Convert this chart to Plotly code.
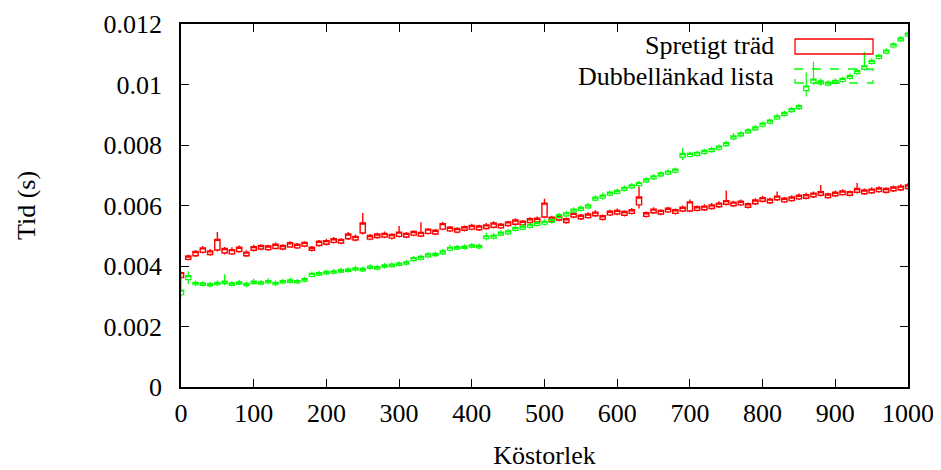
import plotly.graph_objects as go

# x positions (Köstorlek)
x_vals = list(range(0, 1001, 10))

# Red series "Spretigt träd" (values in milliseconds): box bottom, box top, low, high
red_lo = [3.62, 4.22, 4.34, 4.45, 4.38, 4.53, 4.43, 4.40, 4.48, 4.34,
          4.52, 4.56, 4.54, 4.58, 4.56, 4.63, 4.60, 4.66, 4.52, 4.68,
          4.72, 4.78, 4.76, 4.90, 4.86, 5.09, 4.89, 4.94, 4.96, 4.92,
          4.98, 4.96, 5.02, 4.99, 5.08, 5.06, 5.22, 5.16, 5.12, 5.18,
          5.22, 5.20, 5.24, 5.28, 5.26, 5.34, 5.38, 5.36, 5.44, 5.46,
          5.62, 5.49, 5.52, 5.44, 5.62, 5.56, 5.60, 5.66, 5.54, 5.69,
          5.72, 5.68, 5.74, 6.02, 5.64, 5.76, 5.72, 5.79, 5.74, 5.82,
          5.82, 5.84, 5.86, 5.90, 5.96, 6.04, 5.99, 6.02, 5.94, 6.06,
          6.14, 6.09, 6.19, 6.12, 6.16, 6.22, 6.24, 6.29, 6.34, 6.26,
          6.32, 6.36, 6.34, 6.44, 6.39, 6.42, 6.46, 6.44, 6.49, 6.52,
          6.56]
red_hi = [3.78, 4.33, 4.48, 4.60, 4.50, 4.88, 4.58, 4.54, 4.62, 4.46,
          4.64, 4.68, 4.66, 4.72, 4.68, 4.77, 4.72, 4.78, 4.62, 4.82,
          4.84, 4.90, 4.88, 5.06, 4.98, 5.42, 5.01, 5.06, 5.08, 5.04,
          5.12, 5.08, 5.14, 5.11, 5.22, 5.18, 5.40, 5.28, 5.24, 5.30,
          5.34, 5.32, 5.36, 5.42, 5.38, 5.46, 5.52, 5.48, 5.56, 5.58,
          6.08, 5.61, 5.64, 5.56, 5.74, 5.68, 5.72, 5.78, 5.66, 5.81,
          5.84, 5.80, 5.86, 6.28, 5.76, 5.88, 5.84, 5.91, 5.86, 5.94,
          6.12, 5.96, 5.98, 6.02, 6.08, 6.16, 6.11, 6.14, 6.06, 6.18,
          6.26, 6.21, 6.31, 6.24, 6.28, 6.34, 6.36, 6.41, 6.46, 6.38,
          6.44, 6.48, 6.46, 6.56, 6.51, 6.54, 6.58, 6.56, 6.61, 6.64,
          6.68]
red_min = [3.58, 4.18, 4.30, 4.41, 4.34, 4.48, 4.38, 4.36, 4.44, 4.30,
           4.48, 4.52, 4.50, 4.55, 4.52, 4.60, 4.56, 4.62, 4.48, 4.64,
           4.68, 4.74, 4.72, 4.86, 4.82, 5.04, 4.85, 4.90, 4.92, 4.88,
           4.94, 4.92, 4.98, 4.95, 5.04, 5.02, 5.18, 5.12, 5.08, 5.14,
           5.18, 5.16, 5.20, 5.24, 5.22, 5.30, 5.34, 5.32, 5.40, 5.42,
           5.58, 5.45, 5.48, 5.40, 5.58, 5.52, 5.56, 5.62, 5.50, 5.65,
           5.68, 5.64, 5.70, 5.90, 5.60, 5.72, 5.68, 5.75, 5.70, 5.78,
           5.78, 5.80, 5.82, 5.86, 5.92, 6.00, 5.95, 5.98, 5.90, 6.02,
           6.10, 6.05, 6.15, 6.08, 6.12, 6.18, 6.20, 6.25, 6.30, 6.22,
           6.28, 6.32, 6.30, 6.40, 6.35, 6.38, 6.42, 6.40, 6.45, 6.48,
           6.52]
red_max = [3.82, 4.37, 4.52, 4.66, 4.56, 5.12, 4.63, 4.62, 4.68, 4.52,
           4.70, 4.72, 4.70, 4.78, 4.72, 4.82, 4.76, 4.82, 4.66, 4.86,
           4.90, 4.96, 4.92, 5.12, 5.04, 5.75, 5.06, 5.10, 5.14, 5.08,
           5.32, 5.12, 5.18, 5.45, 5.26, 5.22, 5.46, 5.32, 5.28, 5.34,
           5.40, 5.36, 5.42, 5.48, 5.42, 5.50, 5.58, 5.52, 5.62, 5.64,
           6.22, 5.66, 5.70, 5.60, 5.80, 5.72, 5.78, 5.84, 5.70, 5.86,
           5.90, 5.84, 5.92, 6.62, 5.80, 5.94, 5.88, 5.96, 5.90, 6.00,
           6.20, 6.00, 6.04, 6.08, 6.14, 6.50, 6.16, 6.20, 6.10, 6.24,
           6.32, 6.26, 6.46, 6.28, 6.34, 6.40, 6.42, 6.46, 6.68, 6.42,
           6.50, 6.54, 6.50, 6.74, 6.56, 6.60, 6.64, 6.60, 6.66, 6.70,
           6.74]

# Green series "Dubbellänkad lista" (values in milliseconds)
green_lo = [3.05, 3.55, 3.38, 3.36, 3.34, 3.38, 3.42, 3.36, 3.40, 3.35,
            3.42, 3.40, 3.44, 3.38, 3.44, 3.46, 3.44, 3.50, 3.66, 3.70,
            3.74, 3.76, 3.80, 3.82, 3.86, 3.84, 3.92, 3.90, 3.96, 3.98,
            4.02, 4.06, 4.18, 4.22, 4.30, 4.34, 4.40, 4.52, 4.56, 4.58,
            4.62, 4.60, 4.90, 4.92, 5.02, 5.06, 5.18, 5.22, 5.28, 5.34,
            5.38, 5.44, 5.60, 5.66, 5.78, 5.84, 5.92, 6.18, 6.24, 6.34,
            6.40, 6.50, 6.58, 6.66, 6.78, 6.88, 6.98, 7.04, 7.10, 7.60,
            7.62, 7.66, 7.72, 7.78, 7.86, 7.98, 8.20, 8.30, 8.40, 8.50,
            8.62, 8.72, 8.86, 8.98, 9.10, 9.20, 9.80, 10.05, 10.02, 9.98,
            10.04, 10.10, 10.20, 10.36, 10.50, 10.70, 10.86, 11.04, 11.24, 11.44,
            11.60]
green_hi = [3.20, 3.68, 3.46, 3.44, 3.42, 3.46, 3.50, 3.44, 3.48, 3.43,
            3.50, 3.48, 3.52, 3.46, 3.52, 3.54, 3.52, 3.58, 3.76, 3.78,
            3.82, 3.84, 3.88, 3.90, 3.94, 3.92, 4.00, 3.98, 4.04, 4.06,
            4.10, 4.14, 4.28, 4.32, 4.40, 4.42, 4.50, 4.62, 4.64, 4.66,
            4.70, 4.68, 5.00, 5.02, 5.12, 5.16, 5.28, 5.32, 5.38, 5.44,
            5.48, 5.54, 5.70, 5.76, 5.88, 5.94, 6.02, 6.28, 6.34, 6.44,
            6.50, 6.60, 6.68, 6.76, 6.88, 6.98, 7.08, 7.14, 7.20, 7.72,
            7.72, 7.76, 7.82, 7.88, 7.96, 8.08, 8.30, 8.40, 8.50, 8.60,
            8.72, 8.82, 8.96, 9.08, 9.20, 9.30, 9.95, 10.18, 10.12, 10.08,
            10.14, 10.20, 10.30, 10.46, 10.62, 10.80, 10.96, 11.14, 11.34, 11.54,
            11.70]
green_min = [2.98, 3.40, 3.34, 3.32, 3.30, 3.34, 3.36, 3.32, 3.36, 3.30,
             3.38, 3.36, 3.40, 3.34, 3.40, 3.42, 3.40, 3.46, 3.62, 3.66,
             3.70, 3.72, 3.76, 3.78, 3.82, 3.80, 3.88, 3.86, 3.92, 3.94,
             3.98, 4.02, 4.14, 4.18, 4.26, 4.30, 4.36, 4.48, 4.52, 4.54,
             4.58, 4.56, 4.84, 4.88, 4.98, 5.02, 5.14, 5.18, 5.24, 5.30,
             5.34, 5.40, 5.56, 5.62, 5.74, 5.80, 5.88, 6.14, 6.20, 6.30,
             6.36, 6.46, 6.54, 6.62, 6.74, 6.84, 6.94, 7.00, 7.06, 7.50,
             7.58, 7.62, 7.68, 7.74, 7.82, 7.94, 8.16, 8.26, 8.36, 8.46,
             8.58, 8.68, 8.82, 8.94, 9.06, 9.16, 9.60, 9.98, 9.96, 9.94,
             10.00, 10.06, 10.16, 10.32, 10.46, 10.66, 10.82, 11.00, 11.20, 11.40,
             11.56]
green_max = [3.70, 3.83, 3.52, 3.50, 3.48, 3.52, 3.73, 3.50, 3.54, 3.48,
             3.58, 3.54, 3.60, 3.52, 3.58, 3.62, 3.58, 3.64, 3.82, 3.84,
             3.88, 3.90, 3.94, 3.96, 4.02, 3.98, 4.06, 4.04, 4.10, 4.12,
             4.16, 4.20, 4.34, 4.38, 4.46, 4.48, 4.56, 4.70, 4.70, 4.72,
             4.76, 4.74, 5.10, 5.08, 5.18, 5.22, 5.34, 5.38, 5.44, 5.50,
             5.54, 5.60, 5.76, 5.82, 5.94, 6.00, 6.08, 6.34, 6.42, 6.50,
             6.56, 6.66, 6.74, 6.82, 6.94, 7.04, 7.14, 7.20, 7.26, 7.90,
             7.78, 7.82, 7.88, 7.94, 8.02, 8.14, 8.40, 8.46, 8.56, 8.66,
             8.78, 8.88, 9.04, 9.14, 9.26, 9.36, 10.40, 10.75, 10.20, 10.14,
             10.20, 10.26, 10.36, 10.52, 11.08, 10.86, 11.02, 11.20, 11.40, 11.60,
             11.76]

y_tickvals = [0, 0.002, 0.004, 0.006, 0.008, 0.01, 0.012]
y_ticktext = ["0", "0.002", "0.004", "0.006", "0.008", "0.01", "0.012"]
x_tickvals = list(range(0, 1001, 100))

legend_names = ["Spretigt träd", "Dubbellänkad lista"]

def sec(vals):
    return [v / 1000.0 for v in vals]

FONT = "Liberation Serif"
RED = "#ff0000"
GREEN = "#00ff00"

fig = go.Figure()
fig.add_trace(go.Candlestick(
    x=x_vals, open=sec(red_lo), close=sec(red_hi), low=sec(red_min), high=sec(red_max),
    name=legend_names[0], showlegend=False, whiskerwidth=0,
    increasing=dict(line=dict(color=RED, width=1.4), fillcolor="rgba(255,255,255,0)"),
    decreasing=dict(line=dict(color=RED, width=1.4), fillcolor="rgba(255,255,255,0)"),
))
fig.add_trace(go.Candlestick(
    x=x_vals, open=sec(green_lo), close=sec(green_hi), low=sec(green_min), high=sec(green_max),
    name=legend_names[1], showlegend=False, whiskerwidth=0,
    increasing=dict(line=dict(color=GREEN, width=1.2), fillcolor="rgba(255,255,255,0)"),
    decreasing=dict(line=dict(color=GREEN, width=1.2), fillcolor="rgba(255,255,255,0)"),
))

# custom legend, gnuplot style
fig.add_shape(type="rect", xref="paper", yref="paper", x0=0.8446, x1=0.9519, y0=0.9174, y1=0.9587,
              line=dict(color=RED, width=1.3))
fig.add_shape(type="rect", xref="paper", yref="paper", x0=0.8446, x1=0.9519, y0=0.8375, y1=0.876,
              line=dict(color=GREEN, width=1.3, dash="dash"))
fig.add_annotation(xref="paper", yref="paper", x=0.8184, y=0.942, text=legend_names[0],
                   showarrow=False, xanchor="right", yanchor="middle",
                   font=dict(family=FONT, size=26, color="black"))
fig.add_annotation(xref="paper", yref="paper", x=0.8184, y=0.854, text=legend_names[1],
                   showarrow=False, xanchor="right", yanchor="middle",
                   font=dict(family=FONT, size=26, color="black"))

# the page body adds an 8px offset, so the figure is sized to fit the window
fig.update_layout(
    width=933, height=462,
    margin=dict(l=173, r=33, t=16, b=83, autoexpand=False),
    paper_bgcolor="white", plot_bgcolor="white",
    font=dict(family=FONT, size=26, color="black"),
    showlegend=False,
    boxgap=0.2, boxgroupgap=0.1,
    xaxis=dict(
        range=[0, 1000], tickvals=x_tickvals, ticks="inside", ticklen=8, tickwidth=1,
        tickcolor="black", showline=True, linecolor="black", linewidth=1.5, mirror="allticks",
        showgrid=False, zeroline=False, rangeslider=dict(visible=False), automargin=False,
        tickfont=dict(family=FONT, size=26), ticklabelstandoff=2,
        title=dict(text="Köstorlek", font=dict(family=FONT, size=26), standoff=22),
    ),
    yaxis=dict(
        range=[0, 0.012], tickvals=y_tickvals, ticktext=y_ticktext, ticks="inside", ticklen=8,
        tickwidth=1, tickcolor="black", showline=True, linecolor="black", linewidth=1.5,
        mirror="allticks", showgrid=False, zeroline=False, automargin=False,
        tickfont=dict(family=FONT, size=26), ticklabelstandoff=12,
        title=dict(text="Tid (s)", font=dict(family=FONT, size=26), standoff=60),
    ),
)

fig.write_html("out.html")
